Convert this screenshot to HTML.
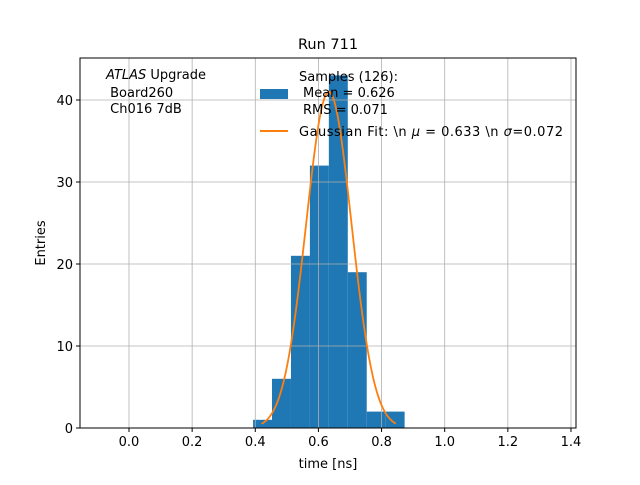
<!DOCTYPE html>
<html><head><meta charset="utf-8"><style>
body{margin:0;background:#fff;}
svg{font-family:"DejaVu Sans","Liberation Sans",sans-serif;}
text{white-space:pre;}
</style></head><body>
<svg id="c" width="640" height="480">
<rect width="640" height="480" fill="#fff"/>
<g id="bars"></g><g id="grid"></g><g id="fit"></g><g id="axes"></g>
<text x="328" y="49" font-size="14.5" text-anchor="middle">Run 711</text>
<text x="328" y="468" font-size="13" text-anchor="middle">time [ns]</text>
<text x="45" y="243" font-size="13" text-anchor="middle" transform="rotate(-90 45 243)">Entries</text>
<g font-size="13">
<text x="106" y="79" xml:space="preserve"><tspan font-style="italic">ATLAS</tspan> Upgrade</text>
<text x="106" y="97" xml:space="preserve"> Board260</text>
<text x="106" y="113" xml:space="preserve"> Ch016 7dB</text>
</g>
<g font-size="13">
<rect x="260" y="89" width="28" height="10" fill="#1f77b4"/>
<text x="299" y="81">Samples (126):</text>
<text x="303" y="97">Mean = 0.626</text>
<text x="303" y="114">RMS = 0.071</text>
<line x1="260" y1="131" x2="288" y2="131" stroke="#ff7f0e" stroke-width="2"/>
<text x="299" y="136" textLength="264">Gaussian Fit: \n <tspan font-style="italic">μ</tspan> = 0.633 \n <tspan font-style="italic">σ</tspan>=0.072</text>
</g>
</svg>
<script>
const binEdges=[0.393,0.453,0.513,0.573,0.633,0.693,0.753,0.813,0.873];
const counts=[1,6,21,32,43,19,2,2];
const xTicks=[0.0,0.2,0.4,0.6,0.8,1.0,1.2,1.4];
const yTicks=[0,10,20,30,40];
const fitMu=0.633, fitSigma=0.072, fitAmp=41, fitRange=[0.42,0.845];
const L=80,R=576,T=58,B=428;
const X=v=>129+v*315.7, Y=v=>428-v*8.2;
const ns="http://www.w3.org/2000/svg";
function mk(p,t,a){const e=document.createElementNS(ns,t);for(const k in a)e.setAttribute(k,a[k]);document.getElementById(p).appendChild(e);return e;}
xTicks.forEach(t=>{
const g=mk('grid','line',{x1:X(t),x2:X(t),y1:T,y2:B,stroke:'#b0b0b0','stroke-width':0.8});


mk('axes','line',{x1:X(t),x2:X(t),y1:B,y2:B+4,stroke:'#000'});
const tx=mk('axes','text',{x:X(t),y:B+18,'font-size':13,'text-anchor':'middle'});tx.textContent=t.toFixed(1);


});
yTicks.forEach(t=>{
const g=mk('grid','line',{x1:L,x2:R,y1:Y(t),y2:Y(t),stroke:'#b0b0b0','stroke-width':0.8});


mk('axes','line',{x1:L-4,x2:L,y1:Y(t),y2:Y(t),stroke:'#000'});
const tx=mk('axes','text',{x:L-7,y:Y(t)+5,'font-size':13,'text-anchor':'end'});tx.textContent=t;


});
counts.forEach((c,i)=>{
const r=mk('bars','rect',{x:X(binEdges[i]),width:X(binEdges[i+1])-X(binEdges[i]),y:Y(c),height:Y(0)-Y(c),fill:'#1f77b4'});


});
let d='';for(let k=0;k<=200;k++){const v=fitRange[0]+(fitRange[1]-fitRange[0])*k/200;const y=fitAmp*Math.exp(-0.5*((v-fitMu)/fitSigma)**2);d+=(k?'L':'M')+X(v).toFixed(2)+','+Y(y).toFixed(2);}
const p=mk('fit','path',{d:d,fill:'none',stroke:'#ff7f0e','stroke-width':1.8});


const f=mk('axes','rect',{x:L,y:T,width:R-L,height:B-T,fill:'none',stroke:'#000','stroke-width':1});


</script>
</body></html>
